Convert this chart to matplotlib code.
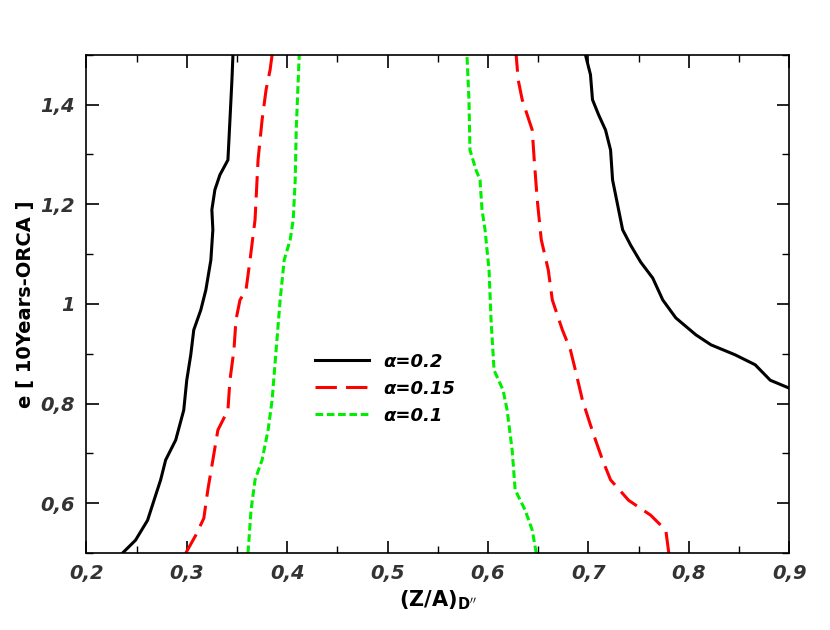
import matplotlib
matplotlib.use("Agg")
import matplotlib.pyplot as plt
from matplotlib.ticker import MultipleLocator, FuncFormatter

bl_x = [0.236,0.249,0.261,0.269,0.274,0.279,0.289,0.297,0.300,0.304,0.307,0.314,0.319,0.324,0.326,0.325,0.328,0.333,0.341,0.343,0.345,0.346]
bl_y = [0.5,0.526,0.566,0.616,0.647,0.687,0.727,0.787,0.847,0.898,0.948,0.988,1.028,1.088,1.149,1.189,1.229,1.259,1.289,1.369,1.450,1.5]
br_x = [0.9,0.881,0.866,0.846,0.822,0.807,0.787,0.774,0.764,0.752,0.742,0.734,0.730,0.724,0.722,0.717,0.710,0.704,0.702,0.697]
br_y = [0.831,0.847,0.878,0.898,0.918,0.938,0.972,1.008,1.052,1.084,1.118,1.149,1.189,1.249,1.309,1.349,1.380,1.410,1.460,1.5]
rl_x = [0.299,0.309,0.317,0.321,0.326,0.331,0.341,0.343,0.347,0.349,0.353,0.359,0.363,0.368,0.371,0.375,0.379,0.383,0.385]
rl_y = [0.5,0.536,0.570,0.627,0.687,0.747,0.787,0.847,0.908,0.968,1.008,1.028,1.088,1.169,1.289,1.369,1.430,1.470,1.5]
rr_x = [0.780,0.777,0.762,0.740,0.722,0.714,0.707,0.702,0.694,0.687,0.682,0.674,0.664,0.660,0.653,0.649,0.646,0.644,0.634,0.630,0.628]
rr_y = [0.5,0.546,0.576,0.606,0.647,0.687,0.727,0.757,0.807,0.867,0.908,0.948,1.008,1.068,1.129,1.209,1.289,1.349,1.410,1.450,1.5]
gl_x = [0.361,0.364,0.368,0.375,0.381,0.385,0.389,0.393,0.397,0.403,0.406,0.408,0.409,0.411,0.412]
gl_y = [0.5,0.586,0.647,0.687,0.747,0.807,0.908,1.008,1.088,1.129,1.169,1.249,1.349,1.450,1.5]
gr_x = [0.648,0.644,0.637,0.627,0.624,0.619,0.615,0.606,0.603,0.601,0.597,0.594,0.592,0.588,0.582,0.581,0.579]
gr_y = [0.5,0.546,0.586,0.627,0.707,0.787,0.827,0.867,0.968,1.068,1.149,1.189,1.249,1.269,1.309,1.410,1.5]

fig = plt.figure(figsize=(8.3, 6.3), dpi=100)
ax = fig.add_axes([0.104, 0.122, 0.847, 0.791])
ax.plot(bl_x, bl_y, color="black", lw=2.2, label="α=0.2")
ax.plot(br_x, br_y, color="black", lw=2.2)
ax.plot(rl_x, rl_y, color="red", lw=2.2, dashes=(7, 3), label="α=0.15")
ax.plot(rr_x, rr_y, color="red", lw=2.2, dashes=(7, 3))
ax.plot(gl_x, gl_y, color="#00ee00", lw=2.2, dashes=(2.5, 1.2), label="α=0.1")
ax.plot(gr_x, gr_y, color="#00ee00", lw=2.2, dashes=(2.5, 1.2))
ax.set_xlim(0.2, 0.9)
ax.set_ylim(0.5, 1.5)
ax.xaxis.set_major_locator(MultipleLocator(0.1))
ax.xaxis.set_minor_locator(MultipleLocator(0.05))
ax.yaxis.set_major_locator(MultipleLocator(0.2))
ax.yaxis.set_minor_locator(MultipleLocator(0.1))
fmt = FuncFormatter(lambda v, p: ("%g" % round(v, 2)).replace(".", ","))
ax.xaxis.set_major_formatter(fmt)
ax.yaxis.set_major_formatter(fmt)
ax.tick_params(which="both", direction="in", top=True, right=True)
ax.tick_params(which="major", length=9, width=1.2, pad=8)
ax.tick_params(which="minor", length=5, width=1)
for t in ax.get_xticklabels() + ax.get_yticklabels():
    t.set_fontweight("bold"); t.set_fontstyle("italic"); t.set_fontsize(14); t.set_color("#333333")
for s in ax.spines.values():
    s.set_linewidth(1.2)
ax.set_xlabel("(Z/A)$_{\\mathbf{D''}}$", fontsize=15, fontweight="bold")
ax.set_ylabel("e [ 10Years-ORCA ]", fontsize=14, fontweight="bold")
leg = ax.legend(loc="center", bbox_to_anchor=(0.425, 0.33), frameon=False,
                prop={"weight": "bold", "style": "italic", "size": 13}, handlelength=3)
fig.savefig("out.png", dpi=100)
